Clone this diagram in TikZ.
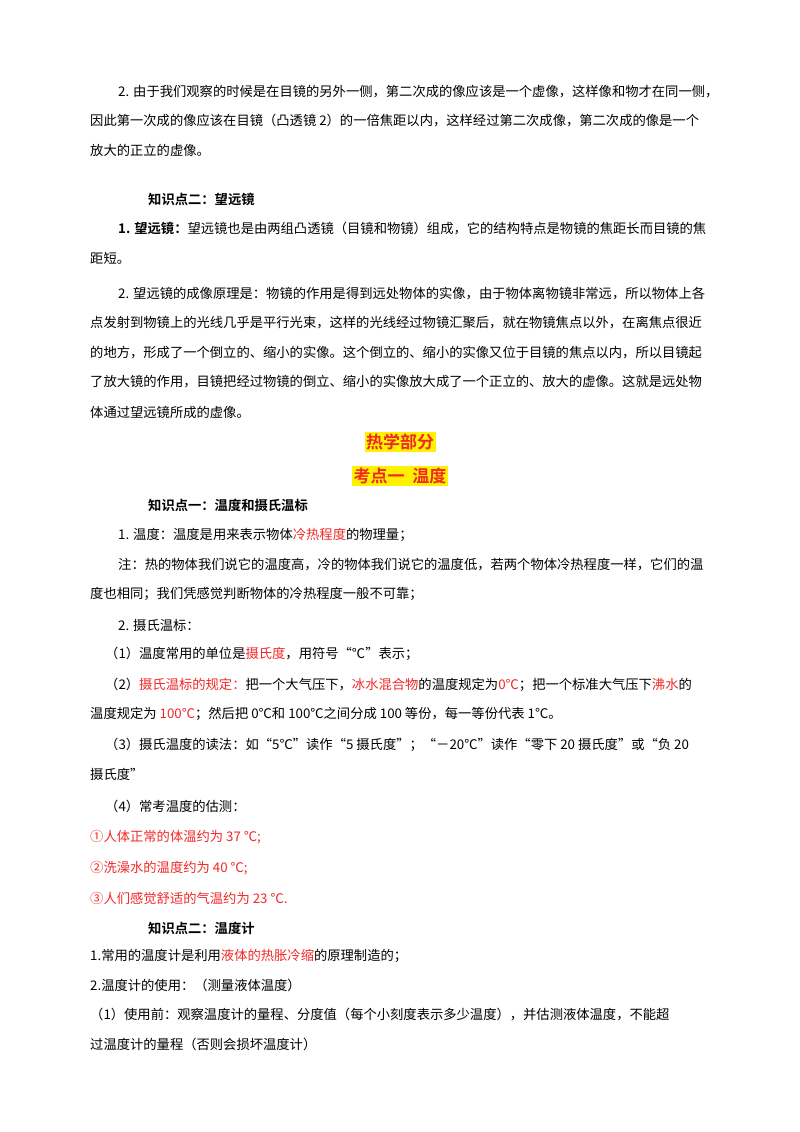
\documentclass[tikz,border=0pt]{standalone}
\usepackage{fontspec}
\setmainfont{Noto Sans CJK SC}[BoldFont={Noto Sans CJK SC Bold}]
\usepackage{tikz}
\definecolor{hotred}{RGB}{240,40,40}
\tikzset{txt/.style = {anchor = west, inner sep = 0pt, font = \fontsize{13.3}{13.3}\selectfont},
  kp/.style = {txt, font = \fontsize{13.3}{13.3}\selectfont\bfseries},
  head/.style = {inner sep = 1.5pt, fill = yellow, text = hotred, font = \fontsize{17}{17}\selectfont\bfseries}}
\newcommand{\rd}[1]{\textcolor{hotred}{#1}}
\def \xa {118}
\def \xb {90}
\def \xc {105}
\def \xk {148}

\begin{document}
\begin{tikzpicture}[x = 1pt, y = -1pt]
\useasboundingbox (0,0) rectangle (800,1132);

\node (l01) [txt] at (\xa,92) {2. 由于我们观察的时候是在目镜的另外一侧，第二次成的像应该是一个虚像，这样像和物才在同一侧，};
\node (l02) [txt] at (\xb,121) {因此第一次成的像应该在目镜（凸透镜 2）的一倍焦距以内，这样经过第二次成像，第二次成的像是一个};
\node (l03) [txt] at (\xb,150) {放大的正立的虚像。};

\node (kp_tele) [kp] at (\xk,199) {知识点二：望远镜};
\node (l04) [txt] at (\xa,229) {\textbf{1. 望远镜：}望远镜也是由两组凸透镜（目镜和物镜）组成，它的结构特点是物镜的焦距长而目镜的焦};
\node (l05) [txt] at (\xb,258) {距短。};
\node (l06) [txt] at (\xa,294) {2. 望远镜的成像原理是：物镜的作用是得到远处物体的实像，由于物体离物镜非常远，所以物体上各};
\node (l07) [txt] at (\xb,323) {点发射到物镜上的光线几乎是平行光束，这样的光线经过物镜汇聚后，就在物镜焦点以外，在离焦点很近};
\node (l08) [txt] at (\xb,353) {的地方，形成了一个倒立的、缩小的实像。这个倒立的、缩小的实像又位于目镜的焦点以内，所以目镜起};
\node (l09) [txt] at (\xb,382) {了放大镜的作用，目镜把经过物镜的倒立、缩小的实像放大成了一个正立的、放大的虚像。这就是远处物};
\node (l10) [txt] at (\xb,412) {体通过望远镜所成的虚像。};

\node (head_heat) [head] at (400,442) {热学部分};
\node (head_temp) [head] at (400,476) {考点一\ \ 温度};

\node (kp_scale) [kp] at (\xk,505) {知识点一：温度和摄氏温标};
\node (l11) [txt] at (\xa,535) {1. 温度：温度是用来表示物体\rd{冷热程度}的物理量；};
\node (l12) [txt] at (\xa,565) {注：热的物体我们说它的温度高，冷的物体我们说它的温度低，若两个物体冷热程度一样，它们的温};
\node (l13) [txt] at (\xb,594) {度也相同；我们凭感觉判断物体的冷热程度一般不可靠；};
\node (l14) [txt] at (\xa,625) {2. 摄氏温标：};
\node (l15) [txt] at (\xc,654) {（1）温度常用的单位是\rd{摄氏度}，用符号“℃”表示；};
\node (l16) [txt] at (\xc,685) {（2）\rd{摄氏温标的规定：}把一个大气压下，\rd{冰水混合物}的温度规定为\rd{0℃}；把一个标准大气压下\rd{沸水}的};
\node (l17) [txt] at (\xb,714) {温度规定为 \rd{100℃}；然后把 0℃和 100℃之间分成 100 等份，每一等份代表 1℃。};
\node (l18) [txt] at (\xc,745) {（3）摄氏温度的读法：如“5℃”读作“5 摄氏度”；“－20℃”读作“零下 20 摄氏度”或“负 20};
\node (l19) [txt] at (\xb,774) {摄氏度”};
\node (l20) [txt] at (\xc,806) {（4）常考温度的估测：};
\node (l21) [txt, text = hotred] at (\xb,837) {①人体正常的体温约为 37 ℃;};
\node (l22) [txt, text = hotred] at (\xb,868) {②洗澡水的温度约为 40 ℃;};
\node (l23) [txt, text = hotred] at (\xb,898) {③人们感觉舒适的气温约为 23 ℃.};

\node (kp_meter) [kp] at (\xk,928) {知识点二：温度计};
\node (l24) [txt] at (\xb,956) {1.常用的温度计是利用\rd{液体的热胀冷缩}的原理制造的；};
\node (l25) [txt] at (\xb,985) {2.温度计的使用：（测量液体温度）};
\node (l26) [txt] at (\xb,1015) {（1）使用前：观察温度计的量程、分度值（每个小刻度表示多少温度），并估测液体温度，不能超};
\node (l27) [txt] at (\xb,1044) {过温度计的量程（否则会损坏温度计）};

\end{tikzpicture}
\end{document}
